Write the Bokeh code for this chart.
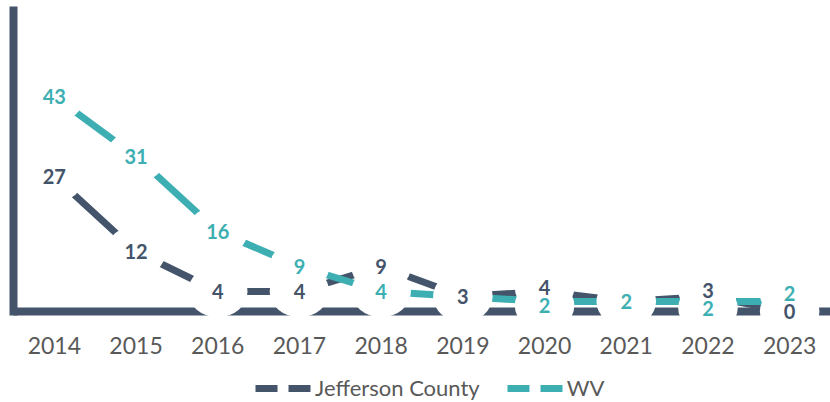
from bokeh.plotting import figure
from bokeh.models import FactorRange, Range1d, ColumnDataSource, Legend, LegendItem
from bokeh.embed import file_html
from bokeh.resources import INLINE
from bokeh.core.properties import value

# ---- data ----
years = ["2014", "2015", "2016", "2017", "2018", "2019", "2020", "2021", "2022", "2023"]
jefferson = [27, 12, 4, 4, 9, 3, 4, 2, 3, 0]
wv = [43, 31, 16, 9, 4, 3, 2, 2, 2, 2]
jefferson_labels = ["27", "12", "4", "4", "9", "3", "4", "", "3", "0"]
wv_labels = ["43", "31", "16", "9", "4", "", "2", "2", "2", "2"]

# ---- style ----
DARK = "#44546A"
TEAL = "#3DAFB3"
GREY = "#595959"
FONT = "Lato"
W, H = 830, 402
TOP, LEFT = 10, 13
ZERO_Y = 311                     # screen row of the value axis origin
PPU = 5.0                        # pixels per unit
Y_END = (ZERO_Y - TOP) / PPU
Y_START = -(H - ZERO_Y) / PPU    # room below zero for tick labels and legend
MIN_SEP = 18.0                   # min vertical label separation in px

# label offsets (screen px, up = positive): push overlapping labels apart,
# keeping the lower one at or above the zero line
j_up = [0.0] * len(years)
w_up = [0.0] * len(years)
for i in range(len(years)):
    if not (jefferson_labels[i] and wv_labels[i]):
        continue
    jp, wp = jefferson[i] * PPU, wv[i] * PPU
    if abs(wp - jp) >= MIN_SEP:
        continue
    need = MIN_SEP - abs(wp - jp)
    lo, hi = (jp, wp) if wp >= jp else (wp, jp)
    lo_new = max(lo - need / 2, 0.0)
    hi_new = lo_new + MIN_SEP
    if wp >= jp:
        j_up[i], w_up[i] = lo_new - jp, hi_new - wp
    else:
        w_up[i], j_up[i] = lo_new - wp, hi_new - jp


def label_source(vals, labels, up):
    keep = [i for i, t in enumerate(labels) if t]
    return ColumnDataSource(dict(x=[years[i] for i in keep], y=[vals[i] for i in keep],
                                 t=[labels[i] for i in keep], dy=[-up[i] for i in keep]))


src_j = ColumnDataSource(dict(x=years, y=jefferson))
src_w = ColumnDataSource(dict(x=years, y=wv))
lab_j = label_source(jefferson, jefferson_labels, j_up)
lab_w = label_source(wv, wv_labels, w_up)

p = figure(x_range=FactorRange(factors=years, range_padding=0),
           y_range=Range1d(Y_START, Y_END),
           width=W, height=H,
           output_backend="svg", toolbar_location=None,
           min_border_left=LEFT, min_border_right=0, min_border_top=TOP,
           min_border_bottom=0,
           outline_line_color=None, background_fill_color="white")
p.grid.visible = False

# axes
p.yaxis.bounds = (0, Y_END)
p.yaxis.axis_line_width = 8
p.yaxis.axis_line_color = DARK
p.yaxis.axis_line_cap = "square"
p.yaxis.major_tick_line_color = None
p.yaxis.minor_tick_line_color = None
p.yaxis.major_tick_out = 0
p.yaxis.minor_tick_out = 0
p.yaxis.major_label_text_font_size = "0px"
p.yaxis.major_label_standoff = 0

p.xaxis.fixed_location = 0
p.xaxis.axis_line_width = 8
p.xaxis.axis_line_color = DARK
p.xaxis.axis_line_cap = "square"
p.xaxis.major_tick_line_color = None
p.xaxis.major_tick_out = 0
p.xaxis.major_label_standoff = 25
p.xaxis.major_label_text_font = FONT
p.xaxis.major_label_text_font_size = "23px"
p.xaxis.major_label_text_color = GREY

# lines
p.line("x", "y", source=src_j, line_color=DARK, line_width=7)
p.line("x", "y", source=src_w, line_color=TEAL, line_width=7)

# label backgrounds: equal-size white ellipses (sized on a one-digit box), then texts
for src in (lab_j, lab_w):
    r = p.text("x", "y", text=value("0"), source=src, y_offset="dy",
               text_align="center", text_baseline="middle",
               text_font=value(FONT), text_font_size="20px", text_font_style="bold",
               text_alpha=0, background_fill_color="white",
               padding=dict(x=16, y=10), outline_shape="ellipse")
    r.level = "annotation"
for src, col in ((lab_j, DARK), (lab_w, TEAL)):
    r = p.text("x", "y", text="t", source=src, y_offset="dy",
               text_align="center", text_baseline="middle",
               text_font=value(FONT), text_font_size="20px", text_font_style="bold",
               text_color=col)
    r.level = "annotation"

# legend: dashed sample lines (hidden renderers, shown only as legend glyphs)
lj = p.line("x", "y", source=src_j, line_color=DARK, line_width=7, line_dash="22 11", visible=False)
lw = p.line("x", "y", source=src_w, line_color=TEAL, line_width=7, line_dash="22 11", visible=False)
legend = Legend(items=[LegendItem(label="Jefferson County", renderers=[lj]),
                       LegendItem(label="WV", renderers=[lw])],
                orientation="horizontal", location=(242, 1),
                border_line_color=None, background_fill_alpha=0, inactive_fill_alpha=0,
                label_text_font=FONT, label_text_font_size="22px", label_text_color=GREY,
                glyph_width=57, glyph_height=20, label_standoff=3, spacing=27,
                padding=0, margin=0)
p.add_layout(legend)

open("out.html", "w").write(file_html(p, INLINE))
